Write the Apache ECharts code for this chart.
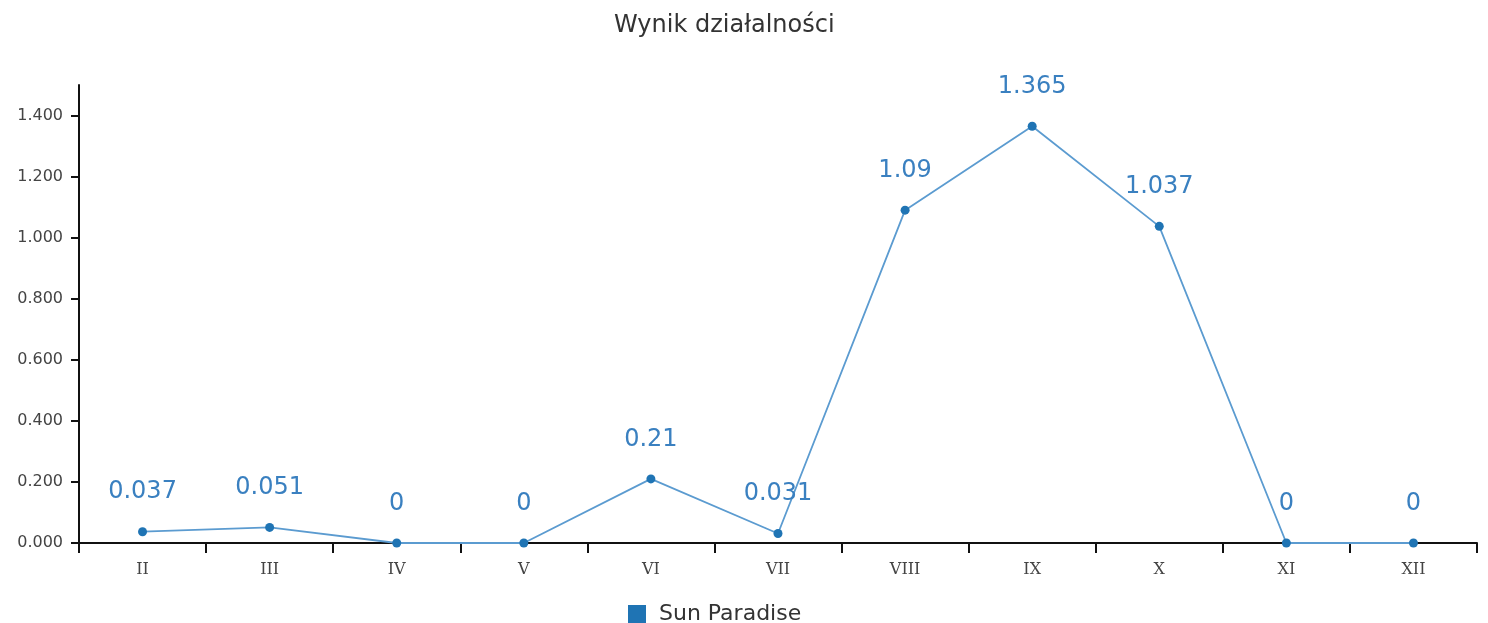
<!DOCTYPE html>
<html lang="pl">
<head>
    <meta charset="UTF-8">
    <title>Wynik działalności</title>
    <style>
        html, body { margin: 0; padding: 0; background: #fff; }
    </style>
</head>
<body>
<div id="main" style="width: 1488px;height:623px;"></div>
<script src="https://cdn.jsdelivr.net/npm/echarts@6/dist/echarts.min.js"></script>
<script>
    var months = ['II', 'III', 'IV', 'V', 'VI', 'VII', 'VIII', 'IX', 'X', 'XI', 'XII'];
    var sunParadise = [0.037, 0.051, 0, 0, 0.21, 0.031, 1.09, 1.365, 1.037, 0, 0];
    var seriesName = 'Sun Paradise';

    var myChart = echarts.init(document.getElementById('main'));
    myChart.setOption({
        animation: false,
        title: {
            text: 'Wynik działalności',
            left: 609,
            top: 9,
            textStyle: {
                fontFamily: 'DejaVu Sans',
                fontSize: 24,
                fontWeight: 'normal',
                color: '#333'
            }
        },
        legend: {
            data: [seriesName],
            left: 623,
            top: 598,
            icon: 'rect',
            itemWidth: 18,
            itemHeight: 18,
            textStyle: {
                fontFamily: 'DejaVu Sans',
                fontSize: 22,
                color: '#333',
                padding: [0, 0, 0, 8]
            }
        },
        grid: {
            left: 79,
            right: 11,
            top: 85,
            bottom: 80
        },
        xAxis: {
            type: 'category',
            data: months,
            boundaryGap: true,
            axisLine: { lineStyle: { color: '#111', width: 2 } },
            axisTick: { show: true, length: 10, lineStyle: { color: '#111', width: 2 } },
            axisLabel: {
                fontFamily: 'DejaVu Serif',
                fontSize: 16,
                color: '#444',
                margin: 19
            },
            splitLine: { show: false }
        },
        yAxis: {
            type: 'value',
            min: 0,
            max: 1.5,
            interval: 0.2,
            axisLine: { show: true, lineStyle: { color: '#111', width: 2 } },
            axisTick: { show: true, length: 8, lineStyle: { color: '#111', width: 2 } },
            axisLabel: {
                fontFamily: 'DejaVu Sans',
                fontSize: 16,
                color: '#444',
                margin: 16,
                showMaxLabel: false,
                formatter: function (v) { return v.toFixed(3); }
            },
            splitLine: { show: false }
        },
        series: [{
            name: seriesName,
            type: 'line',
            data: sunParadise,
            symbol: 'circle',
            symbolSize: 9,
            itemStyle: { color: '#1f74b4' },
            lineStyle: { color: '#5b9bd0', width: 1.8 },
            label: {
                show: true,
                position: 'top',
                distance: 23,
                fontFamily: 'DejaVu Sans',
                fontSize: 24,
                color: '#3a80c0'
            }
        }]
    });
</script>
</body>
</html>
